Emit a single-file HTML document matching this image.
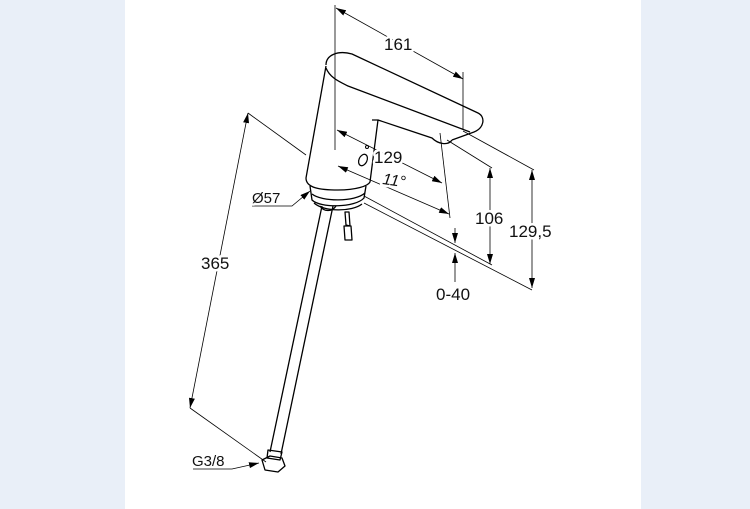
<!DOCTYPE html>
<html><head><style>
html,body{margin:0;padding:0;background:#e9eff8;}
svg{display:block}
text{font-family:"Liberation Sans",sans-serif;fill:#111;paint-order:stroke;stroke:#fff;stroke-width:5px;stroke-linejoin:round}
</style></head><body>
<svg width="750" height="509" viewBox="0 0 750 509" xmlns="http://www.w3.org/2000/svg">
<defs>
<marker id="a" markerWidth="10" markerHeight="6" refX="10" refY="3" orient="auto-start-reverse" markerUnits="userSpaceOnUse"><path d="M0,0 L10,3 L0,6z" fill="#000"/></marker>
</defs>
<rect x="0" y="0" width="750" height="509" fill="#e9eff8"/>
<rect x="125" y="0" width="516" height="509" fill="#fff"/>
<g fill="none" stroke="#000" stroke-width="0.8">
<line x1="335" y1="5" x2="335" y2="150"/>
<line x1="463" y1="72" x2="463" y2="130"/>
<line x1="336" y1="8" x2="463" y2="79" marker-start="url(#a)" marker-end="url(#a)"/>
<line x1="337" y1="130" x2="442" y2="183" marker-start="url(#a)" marker-end="url(#a)"/>
<line x1="338" y1="166" x2="449" y2="214" marker-start="url(#a)" marker-end="url(#a)"/>
<line x1="440" y1="133" x2="450" y2="218"/>
<line x1="447" y1="140" x2="492" y2="168"/>
<line x1="463" y1="131" x2="534" y2="170"/>
<line x1="364" y1="196" x2="492" y2="265"/>
<line x1="364" y1="203" x2="532" y2="290"/>
<line x1="490" y1="168" x2="490" y2="264" marker-start="url(#a)" marker-end="url(#a)"/>
<line x1="532" y1="170" x2="532" y2="288" marker-start="url(#a)" marker-end="url(#a)"/>
<line x1="455" y1="228" x2="455" y2="243" marker-end="url(#a)"/>
<line x1="455" y1="282" x2="455" y2="253" marker-end="url(#a)"/>
<line x1="248" y1="113" x2="190" y2="408" marker-start="url(#a)" marker-end="url(#a)"/>
<line x1="248" y1="113" x2="306" y2="155"/>
<line x1="190" y1="408" x2="266" y2="462"/>
<polyline points="252,206 292,206 310,191" marker-end="url(#a)"/>
<polyline points="193,469 232,469 259,463" marker-end="url(#a)"/>
</g>
<g fill="none" stroke="#000" stroke-width="1.3" stroke-linejoin="round">
<path d="M326,65 C326,55 338,50 352,54 L478,113 C486,117 484,128 474,132 L452,140"/>
<path d="M326,68 C330,78 340,82 348,86 L470,132"/>
<path d="M378,120 L432,138 C438,144 448,146 452,140"/>
<path d="M326,66 L306,178 C306,188 320,190 338,190 C356,190 368,186 370,182 L378,120 L372,120"/>
<path d="M310,186 L312,200 C320,208 355,208 364,198 L366,186"/>
<path d="M312,194 C322,202 355,202 365,193"/>
<path d="M314,203 C324,212 352,212 362,204"/>
<path d="M322,206 L270,452 M333,206 L281,454"/>
<path d="M320,206 C324,212 332,212 336,206"/>
<path d="M345,212 L346,225 L350,226 L349,212 Z M344,226 L345,240 L352,240 L351,226 Z"/>
<path d="M268,450 L282,452 L280,460 L267,458 Z"/>
<path d="M262,460 L270,456 L282,458 L285,466 L278,472 L265,470 Z"/>
</g>
<text x="384" y="50" font-size="17">161</text>
<text x="374" y="163" font-size="17">129</text>
<ellipse cx="363" cy="160" rx="4" ry="6" fill="none" stroke="#000" stroke-width="1.2" transform="rotate(25 363 160)"/>
<circle cx="367" cy="147" r="1.5" fill="none" stroke="#000"/>
<text x="382" y="184" font-size="16" font-style="italic" transform="rotate(8 382 184)">11°</text>
<text x="475" y="224" font-size="17">106</text>
<text x="509" y="237" font-size="17">129,5</text>
<text x="436" y="300" font-size="17">0-40</text>
<text x="201" y="269" font-size="17">365</text>
<text x="252" y="203" font-size="15">Ø57</text>
<text x="192" y="466" font-size="15">G3/8</text>
</svg>
</body></html>
